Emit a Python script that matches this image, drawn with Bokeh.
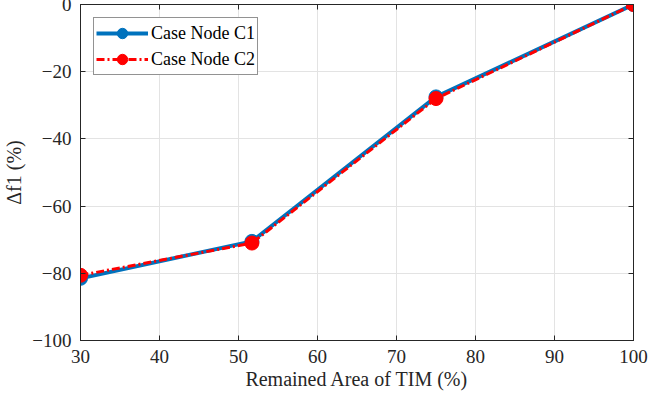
from bokeh.plotting import figure
from bokeh.models import (LinearAxis, Range1d, FixedTicker, Legend, LegendItem,
                          CustomJSTickFormatter)
from bokeh.embed import file_html
from bokeh.resources import INLINE

area = [30, 51.7, 75, 100]
c1 = [-81.5, -70.5, -27.5, 0]
c2 = [-80.6, -71.0, -28.0, 0]
xticks = [30, 40, 50, 60, 70, 80, 90, 100]
yticks = [-100, -80, -60, -40, -20, 0]

FONT = "Liberation Serif"
AX = "#262626"

p = figure(width=653, height=405, output_backend="svg", toolbar_location=None,
           x_range=Range1d(30, 100), y_range=Range1d(-100, 0),
           min_border_left=75, min_border_right=20, min_border_top=12, min_border_bottom=57,
           x_axis_label="Remained Area of TIM (%)", y_axis_label="Δf1 (%)",
           styles={"margin-top": "-8px", "margin-bottom": "-8px"})
p.outline_line_color = AX
p.outline_line_width = 1
p.background_fill_color = "white"
p.border_fill_color = "white"

for ax, ticks in ((p.xaxis[0], xticks), (p.yaxis[0], yticks)):
    ax.ticker = FixedTicker(ticks=ticks)
    ax.axis_line_color = AX
    ax.major_tick_line_color = AX
    ax.major_tick_in = 5
    ax.major_tick_out = 0
    ax.minor_tick_line_color = None
    ax.major_label_text_font = FONT
    ax.major_label_text_font_size = "19px"
    ax.major_label_text_color = AX
    ax.axis_label_text_font = FONT
    ax.axis_label_text_font_size = "20px"
    ax.axis_label_text_font_style = "normal"
    ax.axis_label_text_color = AX
p.xaxis[0].major_label_standoff = 9
p.xaxis[0].axis_label_standoff = 2
p.yaxis[0].major_label_standoff = 9
p.yaxis[0].axis_label_standoff = 4

blank = CustomJSTickFormatter(code="return ''")
top = LinearAxis(ticker=FixedTicker(ticks=xticks), formatter=blank,
                 major_label_text_font_size="1px", major_label_standoff=0,
                 major_tick_in=5, major_tick_out=0, minor_tick_line_color=None,
                 axis_line_color=AX, major_tick_line_color=AX)
right = LinearAxis(ticker=FixedTicker(ticks=yticks), formatter=blank,
                   major_label_text_font_size="1px", major_label_standoff=0,
                   major_tick_in=5, major_tick_out=0, minor_tick_line_color=None,
                   axis_line_color=AX, major_tick_line_color=AX)
p.add_layout(top, "above")
p.add_layout(right, "right")

p.xgrid.ticker = FixedTicker(ticks=xticks)
p.ygrid.ticker = FixedTicker(ticks=yticks)
p.grid.grid_line_color = "#e3e3e3"
p.grid.grid_line_width = 1

BLUE = "#0072BD"
RED = "#FF0000"
l1 = p.line(area, c1, line_color=BLUE, line_width=4)
s1 = p.scatter(area, c1, marker="circle", size=14, fill_color=BLUE, line_color=BLUE)
l2 = p.line(area, c2, line_color=RED, line_width=3, line_dash="8 3 2 3")
s2 = p.scatter(area, c2, marker="circle", size=14, fill_color=RED, line_color=RED)

legend = Legend(items=[LegendItem(label="Case Node C1", renderers=[l1, s1]),
                       LegendItem(label="Case Node C2", renderers=[l2, s2])],
                location="top_left")
legend.margin = 13
legend.padding = 2
legend.spacing = -6
legend.label_height = 20
legend.glyph_height = 26
legend.glyph_width = 52
legend.label_standoff = 3
legend.label_text_font = FONT
legend.label_text_font_size = "18px"
legend.label_text_color = "black"
legend.border_line_color = AX
legend.border_line_width = 1
legend.background_fill_alpha = 1
p.add_layout(legend, "center")

open("out.html", "w").write(file_html(p, INLINE))
